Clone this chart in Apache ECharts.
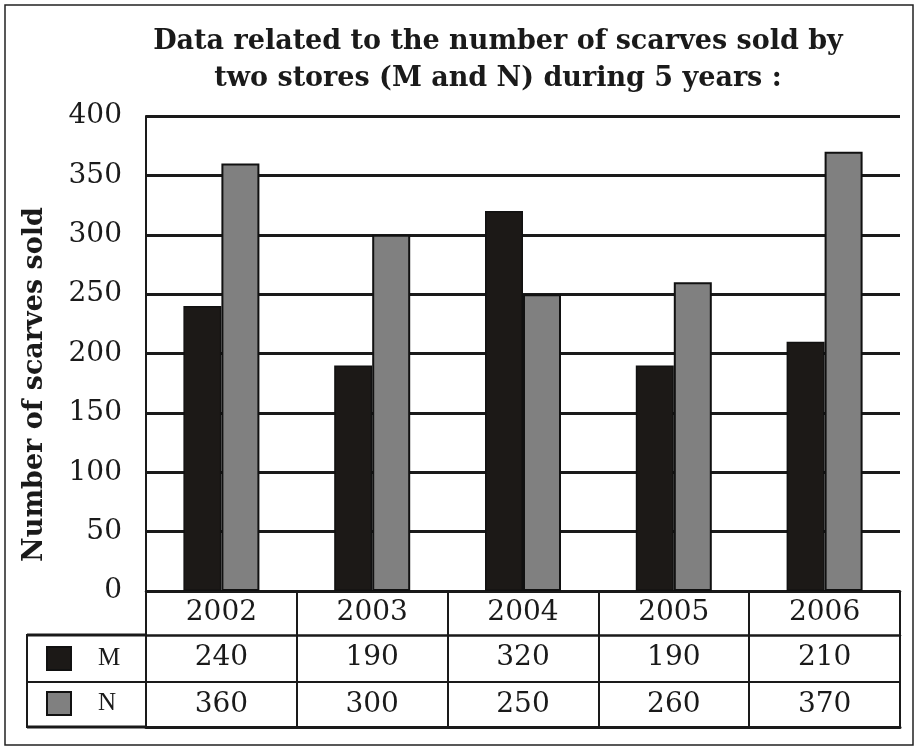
<!DOCTYPE html>
<html>
<head>
<meta charset="utf-8">
<script src="https://cdn.jsdelivr.net/npm/echarts@6/dist/echarts.min.js"></script>
<style>
  html, body { margin: 0; padding: 0; background: #fff; }
  #chart { width: 919px; height: 748px; }
</style>
</head>
<body>
<div id="chart"></div>
<script>
const years = ['2002', '2003', '2004', '2005', '2006'];
const storeM = [240, 190, 320, 190, 210];
const storeN = [360, 300, 250, 260, 370];
const yTicks = { min: 0, max: 400, interval: 50 };
const titleText = 'Data related to the number of scarves sold by\ntwo stores (M and N) during 5 years :';
const yName = 'Number of scarves sold';

const serif = 'DejaVu Serif';
const chart = echarts.init(document.getElementById('chart'), null, { renderer: 'canvas' });

chart.setOption({
  animation: false,
  backgroundColor: '#fff',
  title: {
    text: titleText,
    left: 493,
    top: 18,
    textAlign: 'center',
    textStyle: {
      fontFamily: serif, fontWeight: 'bold', fontSize: 27, lineHeight: 37, color: '#1a1a1a'
    }
  },
  legend: {
    orient: 'vertical',
    left: 41,
    top: 641,
    itemWidth: 24,
    itemHeight: 23,
    itemGap: 20,
    icon: 'rect',
    selectedMode: false,
    textStyle: { fontFamily: 'Liberation Serif', fontSize: 25, lineHeight: 23, color: '#1a1a1a', padding: [0, 0, 0, 22] },
    data: ['M', 'N']
  },
  grid: { left: 146, right: 19, top: 116, bottom: 157, outerBoundsMode: 'none' },
  xAxis: [
    {
      type: 'category', data: years, position: 'bottom', offset: 0,
      axisLine: { show: true, lineStyle: { color: '#1a1a1a', width: 2.5 } },
      axisTick: { show: true, length: 44, interval: 0, lineStyle: { color: '#1a1a1a', width: 2 } },
      axisLabel: { interval: 0, margin: 8, fontFamily: serif, fontSize: 28, color: '#1a1a1a' }
    },
    {
      type: 'category', data: storeM.map(String), position: 'bottom', offset: 44,
      axisLine: { show: true, lineStyle: { color: '#1a1a1a', width: 2.5 } },
      axisTick: { show: true, length: 47, interval: 0, lineStyle: { color: '#1a1a1a', width: 2 } },
      axisLabel: { interval: 0, margin: 9, fontFamily: serif, fontSize: 28, color: '#1a1a1a' }
    },
    {
      type: 'category', data: storeN.map(String), position: 'bottom', offset: 91,
      axisLine: { show: true, lineStyle: { color: '#1a1a1a', width: 2 } },
      axisTick: { show: true, length: 45, interval: 0, lineStyle: { color: '#1a1a1a', width: 2 } },
      axisLabel: { interval: 0, margin: 9, fontFamily: serif, fontSize: 28, color: '#1a1a1a' }
    },
    {
      type: 'category', data: years, position: 'bottom', offset: 136,
      axisLine: { show: true, lineStyle: { color: '#1a1a1a', width: 3 } },
      axisTick: { show: false },
      axisLabel: { show: false }
    }
  ],
  yAxis: {
    type: 'value',
    min: yTicks.min, max: yTicks.max, interval: yTicks.interval,
    name: yName,
    nameLocation: 'middle',
    nameRotate: 90,
    nameGap: 98,
    nameTextStyle: { fontFamily: serif, fontWeight: 'bold', fontSize: 27, color: '#1a1a1a', padding: [0, 62, 0, 0] },
    axisLine: { show: true, lineStyle: { color: '#1a1a1a', width: 2 } },
    axisTick: { show: false },
    axisLabel: { margin: 24, fontFamily: serif, fontSize: 28, color: '#1a1a1a' },
    splitLine: { show: true, lineStyle: { color: '#1a1a1a', width: 3 } }
  },
  series: [
    {
      name: 'M', type: 'bar', data: storeM, barWidth: 38, barGap: '0%', xAxisIndex: 0,
      itemStyle: { color: '#1c1917', borderColor: '#111', borderWidth: 1.5 }
    },
    {
      name: 'N', type: 'bar', data: storeN, barWidth: 38, barGap: '0%', xAxisIndex: 0,
      itemStyle: { color: '#808080', borderColor: '#111', borderWidth: 2 }
    }
  ],
  graphic: [
    { type: 'rect', silent: true, z: -1, shape: { x: 5, y: 5, width: 908, height: 740 },
      style: { fill: 'none', stroke: '#222', lineWidth: 1.5 } },
    { type: 'line', silent: true, shape: { x1: 27, y1: 635, x2: 146, y2: 635 }, style: { stroke: '#1a1a1a', lineWidth: 3 } },
    { type: 'line', silent: true, shape: { x1: 27, y1: 682, x2: 146, y2: 682 }, style: { stroke: '#1a1a1a', lineWidth: 2 } },
    { type: 'line', silent: true, shape: { x1: 27, y1: 727, x2: 146, y2: 727 }, style: { stroke: '#1a1a1a', lineWidth: 3 } },
    { type: 'line', silent: true, shape: { x1: 27, y1: 634, x2: 27, y2: 728 }, style: { stroke: '#1a1a1a', lineWidth: 2 } }
  ]
});
</script>
</body>
</html>
